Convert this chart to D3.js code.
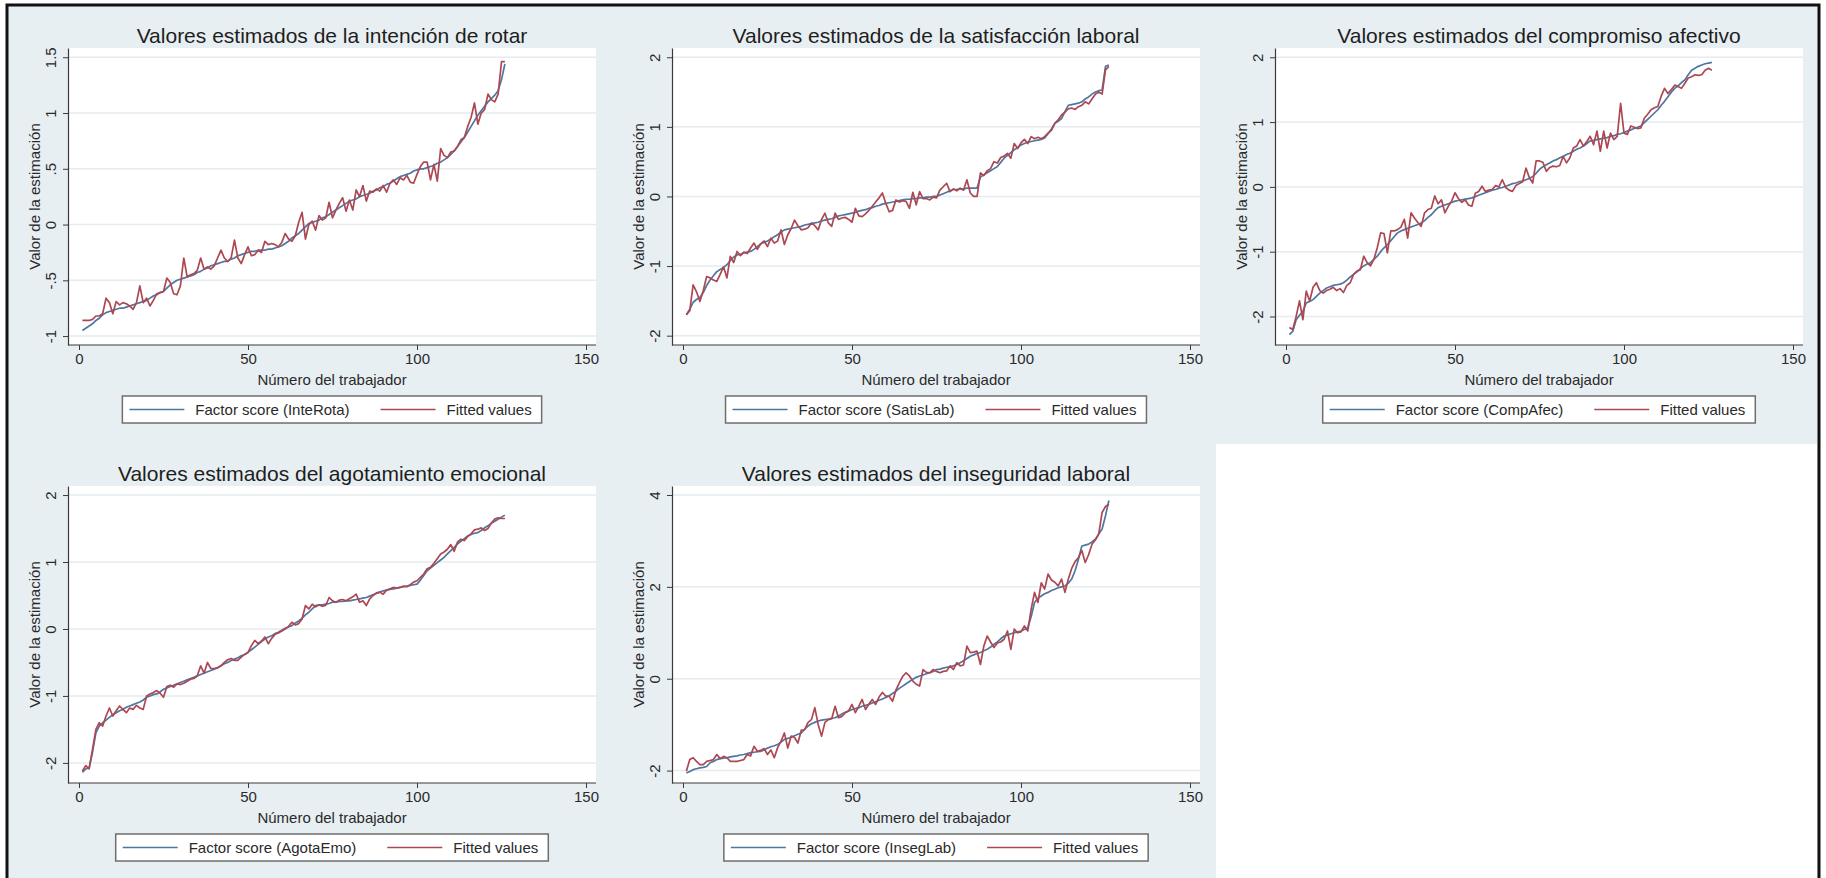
<!DOCTYPE html>
<html>
<head>
<meta charset="utf-8">
<script src="https://cdn.jsdelivr.net/npm/d3@7"></script>
<style>
  body { margin: 0; background: #fff; }
  svg { display: block; font-family: "Liberation Sans", Arial, sans-serif; }
</style>
</head>
<body>
<div id="chart"></div>
<script>
// worker number 1..126 (x axis)
const workers = d3.range(1, 127);
const xTicks = [0, 50, 100, 150];

// --- intención de rotar
const inteRotaScore = [
  -0.95, -0.93, -0.91, -0.89, -0.86, -0.84, -0.81, -0.79, -0.78, -0.77,
  -0.76, -0.75, -0.75, -0.74, -0.73, -0.72, -0.71, -0.70, -0.69, -0.68,
  -0.66, -0.64, -0.63, -0.61, -0.60, -0.57, -0.54, -0.52, -0.50, -0.49,
  -0.48, -0.47, -0.46, -0.45, -0.43, -0.42, -0.40, -0.39, -0.37, -0.36,
  -0.35, -0.34, -0.33, -0.33, -0.31, -0.30, -0.28, -0.27, -0.26, -0.25,
  -0.24, -0.24, -0.23, -0.23, -0.23, -0.22, -0.22, -0.21, -0.20, -0.19,
  -0.17, -0.15, -0.12, -0.10, -0.08, -0.05, -0.02, 0.01, 0.02, 0.03,
  0.04, 0.06, 0.07, 0.09, 0.11, 0.13, 0.15, 0.17, 0.19, 0.21,
  0.22, 0.23, 0.25, 0.26, 0.27, 0.28, 0.30, 0.31, 0.33, 0.34,
  0.36, 0.37, 0.39, 0.41, 0.43, 0.44, 0.45, 0.46, 0.48, 0.49,
  0.50, 0.50, 0.51, 0.52, 0.53, 0.55, 0.56, 0.58, 0.60, 0.63,
  0.66, 0.70, 0.74, 0.78, 0.83, 0.88, 0.93, 0.98, 1.02, 1.06,
  1.10, 1.13, 1.16, 1.20, 1.30, 1.44];
const inteRotaFitted = [
  -0.86, -0.86, -0.86, -0.85, -0.82, -0.82, -0.80, -0.66, -0.70, -0.80,
  -0.69, -0.72, -0.70, -0.71, -0.73, -0.76, -0.70, -0.55, -0.70, -0.66,
  -0.73, -0.68, -0.62, -0.61, -0.60, -0.48, -0.52, -0.62, -0.63, -0.55,
  -0.30, -0.47, -0.45, -0.44, -0.41, -0.30, -0.40, -0.38, -0.40, -0.37,
  -0.30, -0.23, -0.30, -0.33, -0.30, -0.14, -0.30, -0.35, -0.27, -0.20,
  -0.28, -0.27, -0.23, -0.25, -0.15, -0.18, -0.17, -0.18, -0.20, -0.16,
  -0.08, -0.13, -0.15, -0.10, 0.02, 0.11, -0.13, 0.00, 0.03, -0.05,
  0.08, 0.04, 0.06, 0.20, 0.06, 0.13, 0.19, 0.24, 0.12, 0.22,
  0.13, 0.31, 0.25, 0.35, 0.21, 0.30, 0.29, 0.32, 0.30, 0.35,
  0.29, 0.37, 0.40, 0.36, 0.42, 0.40, 0.44, 0.38, 0.37, 0.45,
  0.52, 0.56, 0.56, 0.40, 0.54, 0.39, 0.68, 0.62, 0.60, 0.65,
  0.66, 0.70, 0.76, 0.78, 0.88, 0.96, 1.09, 0.90, 1.00, 1.03,
  1.17, 1.12, 1.10, 1.17, 1.46, 1.46];

// --- satisfacción laboral
const satisLabScore = [
  -1.70, -1.62, -1.52, -1.48, -1.45, -1.38, -1.28, -1.20, -1.14, -1.08,
  -1.05, -1.02, -0.98, -0.92, -0.87, -0.84, -0.83, -0.81, -0.80, -0.79,
  -0.76, -0.72, -0.68, -0.66, -0.64, -0.61, -0.58, -0.55, -0.51, -0.48,
  -0.47, -0.46, -0.45, -0.44, -0.43, -0.41, -0.40, -0.39, -0.38, -0.37,
  -0.35, -0.34, -0.33, -0.32, -0.30, -0.28, -0.27, -0.26, -0.25, -0.24,
  -0.23, -0.21, -0.20, -0.19, -0.17, -0.16, -0.14, -0.13, -0.11, -0.10,
  -0.09, -0.08, -0.07, -0.06, -0.05, -0.04, -0.04, -0.03, -0.03, -0.02,
  -0.02, -0.01, -0.01, 0.00, 0.00, 0.02, 0.04, 0.06, 0.08, 0.10,
  0.10, 0.11, 0.11, 0.12, 0.12, 0.12, 0.12, 0.28, 0.31, 0.34,
  0.37, 0.40, 0.43, 0.49, 0.55, 0.59, 0.63, 0.67, 0.70, 0.74,
  0.76, 0.78, 0.79, 0.80, 0.81, 0.82, 0.84, 0.90, 0.97, 1.05,
  1.08, 1.12, 1.22, 1.31, 1.32, 1.33, 1.34, 1.36, 1.40, 1.43,
  1.47, 1.50, 1.52, 1.53, 1.87, 1.89];
const satisLabFitted = [
  -1.70, -1.64, -1.27, -1.37, -1.51, -1.35, -1.15, -1.17, -1.20, -1.22,
  -1.12, -1.01, -1.17, -0.86, -0.95, -0.79, -0.85, -0.80, -0.82, -0.74,
  -0.67, -0.76, -0.68, -0.64, -0.72, -0.60, -0.67, -0.64, -0.48, -0.69,
  -0.55, -0.46, -0.34, -0.42, -0.48, -0.47, -0.45, -0.38, -0.42, -0.48,
  -0.33, -0.24, -0.38, -0.43, -0.24, -0.33, -0.31, -0.30, -0.33, -0.37,
  -0.17, -0.28, -0.29, -0.25, -0.20, -0.14, -0.08, -0.02, 0.05, -0.10,
  -0.22, -0.20, -0.05, -0.08, -0.06, -0.07, -0.17, 0.06, -0.12, 0.07,
  -0.03, -0.03, -0.05, -0.01, -0.02, 0.09, 0.14, 0.19, 0.07, 0.11,
  0.08, 0.12, 0.09, 0.24, 0.05, 0.00, 0.00, 0.34, 0.30, 0.37,
  0.40, 0.50, 0.48, 0.56, 0.58, 0.62, 0.55, 0.76, 0.69, 0.77,
  0.82, 0.76, 0.86, 0.83, 0.85, 0.83, 0.86, 0.91, 0.95, 1.05,
  1.10, 1.17, 1.21, 1.26, 1.27, 1.25, 1.29, 1.31, 1.36, 1.33,
  1.40, 1.47, 1.50, 1.47, 1.82, 1.87];

// --- compromiso afectivo
const compAfecScore = [
  -2.28, -2.23, -2.05, -1.98, -1.92, -1.79, -1.77, -1.74, -1.69, -1.64,
  -1.60, -1.56, -1.54, -1.52, -1.51, -1.50, -1.48, -1.44, -1.39, -1.35,
  -1.31, -1.26, -1.22, -1.19, -1.17, -1.12, -1.07, -1.00, -0.94, -0.89,
  -0.83, -0.77, -0.71, -0.68, -0.66, -0.64, -0.62, -0.60, -0.58, -0.56,
  -0.52, -0.47, -0.43, -0.37, -0.32, -0.30, -0.28, -0.26, -0.24, -0.22,
  -0.21, -0.20, -0.19, -0.18, -0.17, -0.15, -0.13, -0.11, -0.09, -0.07,
  -0.05, -0.04, -0.02, -0.01, 0.01, 0.03, 0.05, 0.06, 0.08, 0.09,
  0.11, 0.13, 0.16, 0.21, 0.27, 0.31, 0.34, 0.37, 0.40, 0.42,
  0.45, 0.47, 0.50, 0.52, 0.55, 0.58, 0.60, 0.63, 0.67, 0.71,
  0.72, 0.73, 0.74, 0.75, 0.76, 0.78, 0.79, 0.81, 0.82, 0.84,
  0.86, 0.88, 0.90, 0.92, 0.94, 0.99, 1.04, 1.09, 1.14, 1.19,
  1.26, 1.32, 1.39, 1.46, 1.52, 1.56, 1.61, 1.65, 1.73, 1.80,
  1.83, 1.86, 1.88, 1.90, 1.91, 1.92];
const compAfecFitted = [
  -2.17, -2.20, -2.00, -1.76, -2.05, -1.61, -1.76, -1.55, -1.48, -1.60,
  -1.64, -1.60, -1.58, -1.55, -1.60, -1.57, -1.63, -1.52, -1.48, -1.35,
  -1.30, -1.28, -1.07, -1.17, -1.22, -1.12, -0.94, -0.71, -0.72, -1.02,
  -0.68, -0.68, -0.66, -0.62, -0.50, -0.79, -0.40, -0.48, -0.55, -0.61,
  -0.40, -0.35, -0.33, -0.14, -0.26, -0.20, -0.40, -0.30, -0.22, -0.09,
  -0.18, -0.24, -0.20, -0.28, -0.30, -0.10, -0.07, 0.01, -0.07, -0.05,
  -0.04, 0.02, 0.00, 0.11, -0.01, -0.05, -0.07, 0.02, 0.05, 0.08,
  0.29, 0.14, 0.06, 0.40, 0.40, 0.38, 0.24, 0.30, 0.32, 0.31,
  0.33, 0.47, 0.37, 0.45, 0.60, 0.63, 0.73, 0.63, 0.70, 0.78,
  0.65, 0.86, 0.55, 0.86, 0.60, 0.83, 0.73, 0.78, 1.29, 0.83,
  0.81, 0.94, 0.92, 0.90, 0.91, 1.06, 1.12, 1.19, 1.22, 1.24,
  1.40, 1.52, 1.44, 1.50, 1.57, 1.55, 1.52, 1.60, 1.68, 1.70,
  1.73, 1.72, 1.73, 1.80, 1.83, 1.80];

// --- agotamiento emocional
const agotaEmoScore = [
  -2.14, -2.09, -2.07, -1.84, -1.55, -1.45, -1.40, -1.36, -1.32, -1.28,
  -1.25, -1.22, -1.20, -1.17, -1.15, -1.13, -1.11, -1.09, -1.06, -1.02,
  -1.00, -0.98, -0.97, -0.94, -0.90, -0.88, -0.86, -0.84, -0.82, -0.80,
  -0.78, -0.76, -0.74, -0.72, -0.70, -0.68, -0.66, -0.64, -0.62, -0.60,
  -0.58, -0.55, -0.52, -0.50, -0.47, -0.45, -0.43, -0.40, -0.38, -0.35,
  -0.31, -0.27, -0.23, -0.19, -0.15, -0.12, -0.10, -0.07, -0.05, -0.02,
  0.01, 0.03, 0.05, 0.09, 0.12, 0.16, 0.21, 0.25, 0.30, 0.35,
  0.36, 0.36, 0.37, 0.38, 0.40, 0.40, 0.41, 0.41, 0.42, 0.42,
  0.43, 0.44, 0.45, 0.46, 0.47, 0.49, 0.51, 0.53, 0.55, 0.57,
  0.58, 0.59, 0.60, 0.61, 0.62, 0.63, 0.64, 0.65, 0.66, 0.67,
  0.73, 0.80, 0.87, 0.91, 0.95, 0.99, 1.03, 1.07, 1.12, 1.17,
  1.22, 1.27, 1.31, 1.35, 1.39, 1.41, 1.43, 1.44, 1.47, 1.51,
  1.54, 1.58, 1.61, 1.64, 1.67, 1.70];
const agotaEmoFitted = [
  -2.12, -2.04, -2.09, -1.80, -1.50, -1.40, -1.45, -1.30, -1.18, -1.30,
  -1.22, -1.15, -1.20, -1.25, -1.18, -1.20, -1.14, -1.18, -1.20, -1.00,
  -0.97, -0.95, -0.92, -0.96, -1.02, -0.86, -0.84, -0.87, -0.82, -0.83,
  -0.81, -0.78, -0.75, -0.74, -0.70, -0.55, -0.66, -0.50, -0.59, -0.59,
  -0.58, -0.55, -0.50, -0.46, -0.44, -0.47, -0.47, -0.42, -0.38, -0.35,
  -0.25, -0.17, -0.22, -0.18, -0.12, -0.22, -0.14, -0.08, -0.06, -0.03,
  0.00, 0.04, 0.10, 0.06, 0.08, 0.15, 0.35, 0.30, 0.37, 0.33,
  0.36, 0.34, 0.35, 0.47, 0.42, 0.40, 0.43, 0.44, 0.42, 0.45,
  0.48, 0.52, 0.40, 0.42, 0.35, 0.45, 0.50, 0.54, 0.55, 0.52,
  0.58, 0.60, 0.62, 0.61, 0.62, 0.64, 0.63, 0.66, 0.70, 0.72,
  0.77, 0.82, 0.90, 0.92, 0.98, 1.05, 1.12, 1.15, 1.19, 1.26,
  1.16, 1.30, 1.34, 1.32, 1.38, 1.42, 1.48, 1.49, 1.51, 1.47,
  1.50, 1.58, 1.64, 1.66, 1.65, 1.65];

// --- inseguridad laboral
const insegLabScore = [
  -2.05, -2.02, -1.98, -1.96, -1.94, -1.93, -1.91, -1.83, -1.80, -1.76,
  -1.74, -1.73, -1.72, -1.70, -1.69, -1.68, -1.66, -1.65, -1.63, -1.61,
  -1.60, -1.59, -1.58, -1.55, -1.51, -1.48, -1.46, -1.43, -1.38, -1.32,
  -1.30, -1.27, -1.24, -1.21, -1.18, -1.10, -1.03, -0.98, -0.95, -0.92,
  -0.90, -0.89, -0.88, -0.86, -0.85, -0.81, -0.77, -0.73, -0.70, -0.67,
  -0.65, -0.63, -0.60, -0.58, -0.56, -0.53, -0.50, -0.47, -0.44, -0.41,
  -0.37, -0.32, -0.27, -0.21, -0.16, -0.11, -0.06, -0.01, 0.03, 0.06,
  0.08, 0.11, 0.13, 0.16, 0.20, 0.21, 0.23, 0.25, 0.26, 0.28,
  0.31, 0.35, 0.39, 0.44, 0.49, 0.52, 0.55, 0.57, 0.61, 0.64,
  0.69, 0.75, 0.80, 0.87, 0.93, 0.95, 0.98, 1.00, 1.02, 1.04,
  1.07, 1.11, 1.35, 1.66, 1.75, 1.80, 1.85, 1.88, 1.92, 1.95,
  1.98, 2.00, 2.02, 2.08, 2.17, 2.35, 2.60, 2.89, 2.91, 2.93,
  2.98, 3.04, 3.15, 3.26, 3.55, 3.88];
const insegLabFitted = [
  -2.01, -1.76, -1.72, -1.80, -1.87, -1.87, -1.80, -1.78, -1.76, -1.65,
  -1.74, -1.69, -1.72, -1.80, -1.80, -1.80, -1.78, -1.76, -1.65, -1.68,
  -1.47, -1.58, -1.56, -1.52, -1.65, -1.55, -1.72, -1.50, -1.36, -1.18,
  -1.51, -1.25, -1.28, -1.40, -1.12, -1.11, -0.95, -0.89, -0.63, -1.00,
  -1.25, -0.95, -0.89, -0.87, -0.60, -0.85, -0.82, -0.74, -0.70, -0.56,
  -0.74, -0.60, -0.45, -0.67, -0.55, -0.45, -0.56, -0.40, -0.30, -0.38,
  -0.38, -0.49, -0.25, -0.09, 0.05, 0.13, 0.06, -0.05, -0.12, -0.16,
  0.20, 0.14, 0.13, 0.20, 0.16, 0.13, 0.16, 0.17, 0.28, 0.20,
  0.35, 0.28, 0.30, 0.71, 0.57, 0.58, 0.60, 0.31, 0.71, 0.93,
  0.80, 0.68, 0.78, 0.80, 0.86, 1.04, 0.64, 1.08, 1.00, 1.02,
  1.15, 1.04, 1.51, 1.88, 1.66, 2.09, 1.95, 2.28, 2.15, 2.10,
  2.02, 2.17, 1.88, 2.17, 2.40, 2.55, 2.64, 2.79, 2.53, 2.70,
  2.93, 3.02, 3.15, 3.62, 3.75, 3.80];

const panels = [
  { title: "Valores estimados de la intención de rotar", key: "Factor score (InteRota)",
    score: inteRotaScore, fitted: inteRotaFitted, yTicks: [-1, -0.5, 0, 0.5, 1, 1.5], yExtent: [-1.08, 1.583], col: 0, row: 0 },
  { title: "Valores estimados de la satisfacción laboral", key: "Factor score (SatisLab)",
    score: satisLabScore, fitted: satisLabFitted, yTicks: [-2, -1, 0, 1, 2], yExtent: [-2.134, 2.133], col: 1, row: 0 },
  { title: "Valores estimados del compromiso afectivo", key: "Factor score (CompAfec)",
    score: compAfecScore, fitted: compAfecFitted, yTicks: [-2, -1, 0, 1, 2], yExtent: [-2.44, 2.143], col: 2, row: 0 },
  { title: "Valores estimados del agotamiento emocional", key: "Factor score (AgotaEmo)",
    score: agotaEmoScore, fitted: agotaEmoFitted, yTicks: [-2, -1, 0, 1, 2], yExtent: [-2.30, 2.135], col: 0, row: 1 },
  { title: "Valores estimados del inseguridad laboral", key: "Factor score (InsegLab)",
    score: insegLabScore, fitted: insegLabFitted, yTicks: [-2, 0, 2, 4], yExtent: [-2.27, 4.196], col: 1, row: 1 }
];

const W = 1826, H = 878;
const colX = [68, 672, 1275], rowY = [48, 486];
const plotW = 528, plotH = 297;
const blue = "#4f76a0", red = "#ad4852";
const bg = "#e8eff2";

// stata style labels: .5, -.5
const fmt = v => String(v).replace(/^(-?)0\./, "$1.");

const svg = d3.select("#chart").append("svg")
  .attr("width", W)
  .attr("height", H);

svg.append("rect")
  .attr("x", 7).attr("y", 5)
  .attr("width", 1812).attr("height", 882)
  .attr("fill", bg)
  .attr("stroke", "#111")
  .attr("stroke-width", 3);

// empty sixth cell
svg.append("rect")
  .attr("x", 1216).attr("y", 444)
  .attr("width", 601).attr("height", 440)
  .attr("fill", "#fff");

panels.forEach(p => {
  const left = colX[p.col], top = rowY[p.row];
  const g = svg.append("g").attr("transform", `translate(${left},${top})`);

  const x = d3.scaleLinear().domain([0, 150]).range([11, 518]);
  const y = d3.scaleLinear().domain(p.yExtent).range([plotH, 0]);

  g.append("rect").attr("width", plotW).attr("height", plotH).attr("fill", "#fff");

  // gridlines
  g.selectAll("line.grid")
    .data(p.yTicks)
    .join("line")
    .attr("class", "grid")
    .attr("x1", 0).attr("x2", plotW)
    .attr("y1", d => y(d)).attr("y2", d => y(d))
    .attr("stroke", "#e4ecef")
    .attr("stroke-width", 1.5);

  // title
  g.append("text")
    .attr("x", plotW / 2).attr("y", -5.5)
    .attr("text-anchor", "middle")
    .attr("font-size", 21)
    .attr("fill", "#1e1e1e")
    .text(p.title);

  // y axis
  const yAxis = g.append("g")
    .call(d3.axisLeft(y).tickValues(p.yTicks).tickFormat(fmt).tickSize(5).tickSizeOuter(0));
  yAxis.select(".domain").attr("stroke", "#3a3a3a").attr("stroke-width", 1.2);
  yAxis.selectAll(".tick line").attr("stroke", "#3a3a3a");
  yAxis.selectAll(".tick text")
    .attr("x", null).attr("dy", null)
    .attr("transform", "translate(-12,0) rotate(-90)")
    .attr("text-anchor", "middle")
    .attr("font-size", 15)
    .attr("fill", "#2a2a2a");

  g.append("text")
    .attr("transform", `translate(-28,${plotH / 2}) rotate(-90)`)
    .attr("text-anchor", "middle")
    .attr("font-size", 15)
    .attr("fill", "#2a2a2a")
    .text("Valor de la estimación");

  // x axis
  const xAxis = g.append("g")
    .attr("transform", `translate(0,${plotH})`)
    .call(d3.axisBottom(x).tickValues(xTicks).tickSize(5).tickSizeOuter(0));
  xAxis.select(".domain").remove();
  xAxis.append("line").attr("x1", 0).attr("x2", plotW)
    .attr("stroke", "#3a3a3a").attr("stroke-width", 1.2);
  xAxis.selectAll(".tick line").attr("stroke", "#3a3a3a");
  xAxis.selectAll(".tick text")
    .attr("y", 8).attr("dy", "0.71em")
    .attr("font-size", 15)
    .attr("fill", "#2a2a2a");

  g.append("text")
    .attr("x", plotW / 2).attr("y", plotH + 39.5)
    .attr("text-anchor", "middle")
    .attr("font-size", 15)
    .attr("fill", "#2a2a2a")
    .text("Número del trabajador");

  // series
  const line = d3.line().x((d, i) => x(workers[i])).y(d => y(d));
  [[p.score, blue], [p.fitted, red]].forEach(([vals, col]) => {
    g.append("path")
      .attr("d", line(vals))
      .attr("fill", "none")
      .attr("stroke", col)
      .attr("stroke-width", 1.7)
      .attr("stroke-linejoin", "round");
  });

  // legend
  const lg = g.append("g");
  const box = lg.append("rect");
  const items = [[p.key, blue], ["Fitted values", red]];
  let cx = 7;
  items.forEach(([label, col], i) => {
    lg.append("line")
      .attr("x1", cx).attr("x2", cx + 55)
      .attr("y1", 0).attr("y2", 0)
      .attr("stroke", col).attr("stroke-width", 1.7);
    const t = lg.append("text")
      .attr("x", cx + 66).attr("y", 5.4)
      .attr("font-size", 15)
      .attr("fill", "#2a2a2a")
      .text(label);
    cx += 66 + t.node().getComputedTextLength() + (i === 0 ? 31 : 10);
  });
  box.attr("x", 0).attr("y", -13.5).attr("width", cx).attr("height", 27)
    .attr("fill", "#fff").attr("stroke", "#6e6e6e").attr("stroke-width", 1.5);
  lg.attr("transform", `translate(${plotW / 2 - cx / 2},${plotH + 64.5})`);
});
</script>
</body>
</html>
